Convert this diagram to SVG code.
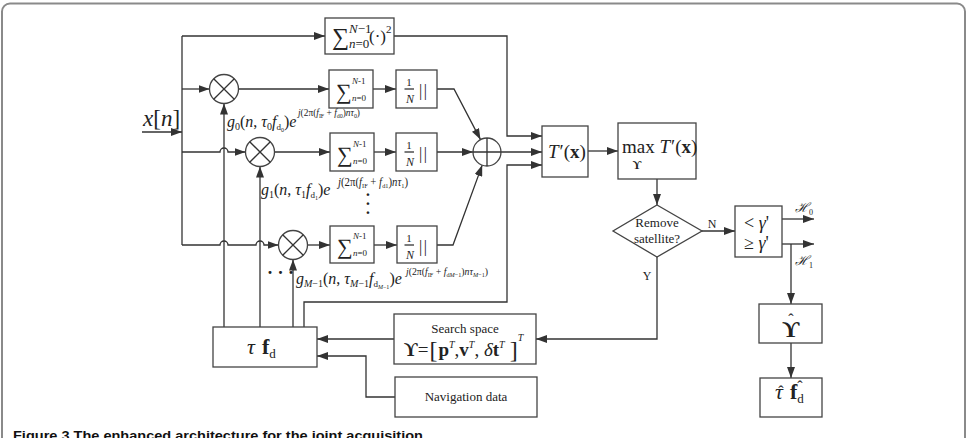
<svg xmlns="http://www.w3.org/2000/svg" width="970" height="438" viewBox="0 0 970 438">
<defs>
<marker id="a" markerWidth="11" markerHeight="8" refX="11" refY="4" orient="auto" markerUnits="userSpaceOnUse"><path d="M0,0 L11,4 L0,8 z" fill="#333"/></marker>
<style>
.ln{fill:none;stroke:#333;stroke-width:1.3}
.ar{marker-end:url(#a)}
.bx{fill:#fff;stroke:#444;stroke-width:1.3}
.t{font-family:"Liberation Serif","Times New Roman",serif;fill:#222}
.i{font-style:italic}
.b{font-weight:bold}
.cap{font-family:"Liberation Sans",Arial,sans-serif;font-weight:bold;fill:#111}
</style>
</defs>
<rect x="2" y="3.5" width="963" height="470" rx="8" fill="#fff" stroke="#8a8a8a" stroke-width="2"/>

<g id="connectors">
<path class="ln ar" d="M142,132 H182"/>
<path class="ln" d="M182,36 V245"/>
<path class="ln ar" d="M182,36 H325"/>
<path class="ln ar" d="M182,89 H209.5"/>
<path class="ln ar" d="M238.5,89 H329"/>
<path class="ln ar" d="M373,89 H396"/>
<path class="ln ar" d="M182,152 H220 a4,4 0 0 1 8,0 H245.5"/>
<path class="ln ar" d="M274.5,152 H330"/>
<path class="ln ar" d="M374,152 H396"/>
<path class="ln ar" d="M182,245 H220 a4,4 0 0 1 8,0 H256 a4,4 0 0 1 8,0 H278.5"/>
<path class="ln ar" d="M307.5,245 H330"/>
<path class="ln ar" d="M374,245 H397"/>
<path class="ln ar" d="M224,327 V103.5"/>
<path class="ln ar" d="M260,327 V166.5"/>
<path class="ln ar" d="M293,327 V259.5"/>
<path class="ln ar" d="M304,327 V302 H507 V165 H542"/>
<path class="ln ar" d="M394,36 H507 V136 H542"/>
<path class="ln ar" d="M437,89 H454 L480.5,139.6"/>
<path class="ln ar" d="M437,152 H473"/>
<path class="ln ar" d="M437,245 H453 L482.2,165.1"/>
<path class="ln ar" d="M501,152 H542"/>
<path class="ln ar" d="M588,151 H618"/>
<path class="ln ar" d="M657,179 V205"/>
<path class="ln ar" d="M702,231 H735"/>
<path class="ln ar" d="M782,219 H814"/>
<path class="ln ar" d="M782,244 H814"/>
<path class="ln ar" d="M791,244 V304"/>
<path class="ln ar" d="M791,343 V378"/>
<path class="ln ar" d="M657,257 V339 H536"/>
<path class="ln ar" d="M394,339 H317"/>
<path class="ln ar" d="M395,397 H366 V356 H317"/>
</g>

<g id="input-label">
<text class="t" x="143" y="126" font-size="23"><tspan class="i">x</tspan>[<tspan class="i">n</tspan>]</text>
</g>

<g id="sum-square">
<rect class="bx" x="325" y="18" width="69" height="36"/>
<text class="t" x="332" y="45" font-size="24">∑</text>
<text class="t" x="349" y="33" font-size="13"><tspan class="i">N</tspan>−1</text>
<text class="t" x="349" y="48" font-size="13"><tspan class="i">n</tspan>=0</text>
<text class="t" x="369" y="42" font-size="17">(·)</text>
<text class="t" x="386" y="33" font-size="11">2</text>
</g>

<g id="mult-0">
<circle class="bx" cx="224" cy="89" r="14.5"/>
<path class="ln" d="M213.7,78.7 L234.3,99.3 M234.3,78.7 L213.7,99.3"/>
</g>
<g id="mult-1">
<circle class="bx" cx="260" cy="152" r="14.5"/>
<path class="ln" d="M249.7,141.7 L270.3,162.3 M270.3,141.7 L249.7,162.3"/>
</g>
<g id="mult-m">
<circle class="bx" cx="293" cy="245" r="14.5"/>
<path class="ln" d="M282.7,234.7 L303.3,255.3 M303.3,234.7 L282.7,255.3"/>
</g>

<g id="sum-0">
<rect class="bx" x="329" y="70" width="44" height="38"/>
<text class="t" x="336" y="99" font-size="22">∑</text>
<text class="t" x="352" y="84" font-size="9"><tspan class="i">N</tspan>-1</text>
<text class="t" x="352" y="101" font-size="9"><tspan class="i">n</tspan>=0</text>
</g>
<g id="sum-1">
<rect class="bx" x="330" y="133" width="44" height="38"/>
<text class="t" x="337" y="162" font-size="22">∑</text>
<text class="t" x="353" y="147" font-size="9"><tspan class="i">N</tspan>-1</text>
<text class="t" x="353" y="164" font-size="9"><tspan class="i">n</tspan>=0</text>
</g>
<g id="sum-m">
<rect class="bx" x="330" y="226" width="44" height="37"/>
<text class="t" x="337" y="254" font-size="22">∑</text>
<text class="t" x="353" y="239" font-size="9"><tspan class="i">N</tspan>-1</text>
<text class="t" x="353" y="256" font-size="9"><tspan class="i">n</tspan>=0</text>
</g>

<g id="norm-0">
<rect class="bx" x="396" y="70" width="41" height="38"/>
<text class="t" x="409" y="86" font-size="11" text-anchor="middle">1</text>
<path class="ln" d="M404.5,89 H414"/>
<text class="t i" x="410" y="103" font-size="12" text-anchor="middle">N</text>
<text class="t" x="419" y="96" font-size="16" letter-spacing="1.5">||</text>
</g>
<g id="norm-1">
<rect class="bx" x="396" y="133" width="41" height="38"/>
<text class="t" x="409" y="149" font-size="11" text-anchor="middle">1</text>
<path class="ln" d="M404.5,152 H414"/>
<text class="t i" x="410" y="166" font-size="12" text-anchor="middle">N</text>
<text class="t" x="419" y="159" font-size="16" letter-spacing="1.5">||</text>
</g>
<g id="norm-m">
<rect class="bx" x="397" y="226" width="40" height="37"/>
<text class="t" x="409" y="242" font-size="11" text-anchor="middle">1</text>
<path class="ln" d="M404.5,245 H414"/>
<text class="t i" x="410" y="259" font-size="12" text-anchor="middle">N</text>
<text class="t" x="419" y="252" font-size="16" letter-spacing="1.5">||</text>
</g>

<g id="label-g0">
<text class="t" x="227" y="127" font-size="16"><tspan class="i">g</tspan><tspan font-size="10" dy="3">0</tspan><tspan dy="-3">(</tspan><tspan class="i">n</tspan>, <tspan class="i">τ</tspan><tspan font-size="10" dy="3">0</tspan><tspan class="i" dy="-3">f</tspan><tspan font-size="9" dy="3">d</tspan><tspan font-size="6" dy="2">0</tspan><tspan dy="-5">)</tspan><tspan class="i">e</tspan></text>
<text class="t" x="298" y="116" font-size="11" textLength="62" lengthAdjust="spacingAndGlyphs"><tspan class="i">j</tspan>(2π(<tspan class="i">f</tspan><tspan font-size="7" dy="2">IF</tspan><tspan dy="-2"> + </tspan><tspan class="i">f</tspan><tspan font-size="7" dy="2">d0</tspan><tspan dy="-2">)</tspan><tspan class="i">nτ</tspan><tspan font-size="7" dy="2">0</tspan><tspan dy="-2">)</tspan></text>
</g>
<g id="label-g1">
<text class="t" x="261" y="195" font-size="16"><tspan class="i">g</tspan><tspan font-size="10" dy="3">1</tspan><tspan dy="-3">(</tspan><tspan class="i">n</tspan>, <tspan class="i">τ</tspan><tspan font-size="10" dy="3">1</tspan><tspan class="i" dy="-3">f</tspan><tspan font-size="9" dy="3">d</tspan><tspan font-size="6" dy="2">1</tspan><tspan dy="-5">)</tspan><tspan class="i">e</tspan></text>
<text class="t" x="338" y="186" font-size="12" textLength="70" lengthAdjust="spacingAndGlyphs"><tspan class="i">j</tspan>(2π(<tspan class="i">f</tspan><tspan font-size="7" dy="2">IF</tspan><tspan dy="-2"> + </tspan><tspan class="i">f</tspan><tspan font-size="7" dy="2">d1</tspan><tspan dy="-2">)</tspan><tspan class="i">nτ</tspan><tspan font-size="7" dy="2">1</tspan><tspan dy="-2">)</tspan></text>
</g>
<g id="label-gm">
<text class="t" x="296" y="284" font-size="16"><tspan class="i">g</tspan><tspan font-size="10" dy="3"><tspan class="i">M</tspan>−1</tspan><tspan dy="-3">(</tspan><tspan class="i">n</tspan>, <tspan class="i">τ</tspan><tspan font-size="10" dy="3"><tspan class="i">M</tspan>−1</tspan><tspan class="i" dy="-3">f</tspan><tspan font-size="9" dy="3">d</tspan><tspan font-size="6" dy="2"><tspan class="i">M</tspan>−1</tspan><tspan dy="-5">)</tspan><tspan class="i">e</tspan></text>
<text class="t" x="406" y="275" font-size="11" textLength="82" lengthAdjust="spacingAndGlyphs"><tspan class="i">j</tspan>(2π(<tspan class="i">f</tspan><tspan font-size="7" dy="2">IF</tspan><tspan dy="-2"> + </tspan><tspan class="i">f</tspan><tspan font-size="7" dy="2">d<tspan class="i">M</tspan>−1</tspan><tspan dy="-2">)</tspan><tspan class="i">nτ</tspan><tspan font-size="7" dy="2"><tspan class="i">M</tspan>−1</tspan><tspan dy="-2">)</tspan></text>
</g>

<g id="ellipses">
<text class="t b" x="368" y="200" font-size="16" text-anchor="middle">·</text>
<text class="t b" x="368" y="209" font-size="16" text-anchor="middle">·</text>
<text class="t b" x="368" y="218" font-size="16" text-anchor="middle">·</text>
<text class="t b" x="267" y="279" font-size="18">· · ·</text>
</g>

<g id="adder">
<circle class="bx" cx="487" cy="152" r="14"/>
<path class="ln" d="M473,152 H501 M487,138 V166"/>
</g>

<g id="stat">
<rect class="bx" x="542" y="126" width="46" height="51"/>
<text class="t" x="548" y="158" font-size="19"><tspan class="i">T</tspan><tspan dx="1">′(</tspan><tspan class="b">x</tspan>)</text>
</g>

<g id="max">
<rect class="bx" x="618" y="123" width="78" height="56"/>
<text class="t" x="622" y="153" font-size="19">max <tspan class="i">T</tspan><tspan dx="1">′(</tspan><tspan class="b">x</tspan>)</text>
<text class="t b" x="637" y="169" font-size="12" text-anchor="middle">ϒ</text>
</g>

<g id="decision">
<polygon class="bx" points="657,205 702,231 657,257 613,231"/>
<text class="t" x="657" y="227" font-size="13" text-anchor="middle">Remove</text>
<text class="t" x="657" y="243" font-size="13" text-anchor="middle">satellite?</text>
<text class="t" x="712" y="228" font-size="12" text-anchor="middle">N</text>
<text class="t" x="647" y="280" font-size="12" text-anchor="middle">Y</text>
</g>

<g id="threshold">
<rect class="bx" x="735" y="206" width="47" height="51"/>
<text class="t" x="744" y="229" font-size="18">&lt; <tspan class="i">γ</tspan>'</text>
<text class="t" x="744" y="249" font-size="18">≥ <tspan class="i">γ</tspan>'</text>
<text class="t i" x="795" y="212" font-size="13" font-family="DejaVu Serif,serif">ℋ<tspan font-style="normal" font-size="8" dy="3">0</tspan></text>
<text class="t i" x="795" y="265" font-size="13" font-family="DejaVu Serif,serif">ℋ<tspan font-style="normal" font-size="8" dy="3">1</tspan></text>
</g>

<g id="upsilon-hat">
<rect class="bx" x="759" y="304" width="63" height="39"/>
<text class="t b" x="791" y="337" font-size="24" text-anchor="middle">ϒ</text>
<text class="t" x="791" y="325" font-size="16" text-anchor="middle">ˆ</text>
</g>

<g id="estimates">
<rect class="bx" x="760" y="378" width="62" height="39"/>
<text class="t" x="775" y="399" font-size="22"><tspan class="i">τ</tspan><tspan dx="7" class="b">f</tspan><tspan font-size="13" dy="4">d</tspan></text>
<text class="t" x="781" y="397" font-size="16" text-anchor="middle">ˆ</text>
<text class="t" x="800" y="392" font-size="16" text-anchor="middle">ˆ</text>
</g>

<g id="tau-fd">
<rect class="bx" x="213" y="327" width="104" height="40"/>
<text class="t" x="247" y="354" font-size="22"><tspan class="i">τ</tspan><tspan dx="7" class="b">f</tspan><tspan font-size="13" dy="4">d</tspan></text>
</g>

<g id="search-space">
<rect class="bx" x="394" y="314" width="142" height="50"/>
<text class="t" x="465" y="333" font-size="13" text-anchor="middle">Search space</text>
<text class="t" x="404" y="356" font-size="19"><tspan class="b">ϒ</tspan>=<tspan font-size="24" dy="2" dx="1">[</tspan><tspan class="b" dy="-2" dx="1">p</tspan><tspan class="i" font-size="10" dy="-8">T</tspan><tspan dy="8">,</tspan><tspan class="b">v</tspan><tspan class="i" font-size="10" dy="-8">T</tspan><tspan dy="8">, </tspan><tspan class="i">δ</tspan><tspan class="b">t</tspan><tspan class="i" font-size="10" dy="-8">T</tspan><tspan font-size="24" dx="5" dy="10">]</tspan><tspan class="i" font-size="10" dy="-17">T</tspan></text>
</g>

<g id="nav-data">
<rect class="bx" x="395" y="377" width="142" height="40"/>
<text class="t" x="466" y="401" font-size="13" text-anchor="middle">Navigation data</text>
</g>

<text class="cap" x="13" y="440" font-size="13" textLength="410" lengthAdjust="spacingAndGlyphs">Figure 3 The enhanced architecture for the joint acquisition</text>
</svg>
